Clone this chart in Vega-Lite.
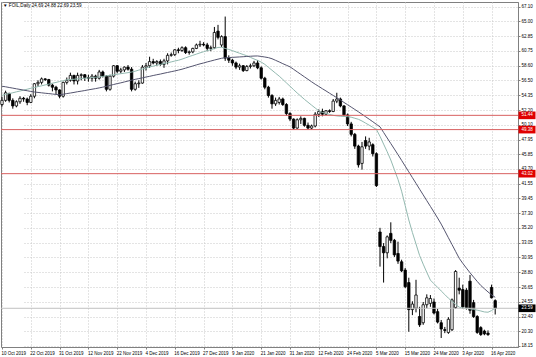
{
  "$schema": "https://vega.github.io/schema/vega-lite/v6.json",
  "width": 517,
  "height": 345,
  "autosize": "none",
  "padding": {"left": 1, "top": 2, "right": 18, "bottom": 10},
  "background": "#ffffff",
  "config": {
    "view": {"stroke": "#808080", "strokeWidth": 1},
    "font": "Liberation Sans",
    "axis": {
      "labelOverlap": false,
      "labelFontSize": 4.5,
      "labelFont": "Liberation Sans",
      "labelColor": "#000000",
      "labelPadding": 1,
      "tickSize": 2,
      "tickColor": "#808080",
      "domainColor": "#808080",
      "gridColor": "#c8c8c8",
      "gridDash": [1, 2],
      "gridWidth": 1,
      "title": null
    }
  },
  "title": {
    "text": "▼ FOIL,Daily  24.69 24.88 22.69 23.59",
    "anchor": "start",
    "frame": "group",
    "offset": -6,
    "dx": 2,
    "fontSize": 4.6,
    "fontWeight": "normal",
    "font": "Liberation Sans",
    "color": "#000000"
  },
  "datasets": {
    "bars": [
      {"d":"10 Oct 2019","o":53.0,"h":54.1,"l":52.7,"c":53.6,"m1":54.33,"m2":55.64},
      {"d":"11 Oct 2019","o":53.6,"h":55.0,"l":53.4,"c":54.7,"m1":54.46,"m2":55.56},
      {"d":"14 Oct 2019","o":54.6,"h":54.7,"l":53.3,"c":53.6,"m1":54.57,"m2":55.46},
      {"d":"15 Oct 2019","o":53.6,"h":53.9,"l":52.4,"c":52.8,"m1":54.70,"m2":55.37},
      {"d":"16 Oct 2019","o":52.8,"h":53.6,"l":52.6,"c":53.4,"m1":54.83,"m2":55.27},
      {"d":"17 Oct 2019","o":53.4,"h":54.2,"l":53.1,"c":53.9,"m1":54.95,"m2":55.18},
      {"d":"18 Oct 2019","o":53.9,"h":54.1,"l":53.4,"c":53.8,"m1":55.08,"m2":55.08},
      {"d":"21 Oct 2019","o":53.8,"h":54.0,"l":52.9,"c":53.3,"m1":55.21,"m2":54.99},
      {"d":"22 Oct 2019","o":53.3,"h":54.5,"l":53.2,"c":54.2,"m1":55.34,"m2":54.89},
      {"d":"23 Oct 2019","o":54.2,"h":56.1,"l":53.9,"c":56.0,"m1":55.46,"m2":54.81},
      {"d":"24 Oct 2019","o":56.0,"h":56.5,"l":55.6,"c":56.2,"m1":55.59,"m2":54.75},
      {"d":"25 Oct 2019","o":56.2,"h":56.9,"l":55.9,"c":56.7,"m1":55.70,"m2":54.69},
      {"d":"27 Oct 2019","o":56.7,"h":56.8,"l":56.4,"c":56.6,"m1":55.83,"m2":54.63},
      {"d":"28 Oct 2019","o":56.6,"h":56.7,"l":55.6,"c":55.8,"m1":55.94,"m2":54.58},
      {"d":"29 Oct 2019","o":55.8,"h":56.0,"l":54.9,"c":55.5,"m1":56.08,"m2":54.52},
      {"d":"30 Oct 2019","o":55.5,"h":55.7,"l":54.5,"c":55.1,"m1":56.19,"m2":54.46},
      {"d":"31 Oct 2019","o":55.1,"h":55.2,"l":53.9,"c":54.2,"m1":56.32,"m2":54.40},
      {"d":"1 Nov 2019","o":54.2,"h":56.3,"l":54.0,"c":56.2,"m1":56.44,"m2":54.49},
      {"d":"4 Nov 2019","o":56.2,"h":56.9,"l":55.9,"c":56.5,"m1":56.57,"m2":54.58},
      {"d":"5 Nov 2019","o":56.5,"h":57.6,"l":56.3,"c":57.2,"m1":56.61,"m2":54.66},
      {"d":"6 Nov 2019","o":57.2,"h":57.3,"l":55.9,"c":56.4,"m1":56.65,"m2":54.75},
      {"d":"7 Nov 2019","o":56.4,"h":57.6,"l":55.9,"c":57.2,"m1":56.71,"m2":54.85},
      {"d":"8 Nov 2019","o":57.2,"h":57.5,"l":56.5,"c":57.3,"m1":56.75,"m2":54.93},
      {"d":"11 Nov 2019","o":57.3,"h":57.4,"l":56.4,"c":56.9,"m1":56.80,"m2":55.02},
      {"d":"12 Nov 2019","o":56.9,"h":57.3,"l":56.3,"c":56.8,"m1":56.84,"m2":55.12},
      {"d":"13 Nov 2019","o":56.8,"h":57.4,"l":56.3,"c":57.1,"m1":56.90,"m2":55.21},
      {"d":"14 Nov 2019","o":57.1,"h":57.3,"l":56.3,"c":56.8,"m1":56.94,"m2":55.30},
      {"d":"15 Nov 2019","o":56.8,"h":58.0,"l":56.6,"c":57.7,"m1":56.98,"m2":55.40},
      {"d":"18 Nov 2019","o":57.7,"h":57.9,"l":56.9,"c":57.1,"m1":57.06,"m2":55.51},
      {"d":"19 Nov 2019","o":57.1,"h":57.2,"l":54.9,"c":55.2,"m1":57.14,"m2":55.63},
      {"d":"20 Nov 2019","o":55.2,"h":57.3,"l":55.0,"c":57.1,"m1":57.22,"m2":55.76},
      {"d":"21 Nov 2019","o":57.1,"h":58.7,"l":56.9,"c":58.6,"m1":57.30,"m2":55.89},
      {"d":"22 Nov 2019","o":58.6,"h":58.7,"l":57.5,"c":57.8,"m1":57.37,"m2":56.02},
      {"d":"25 Nov 2019","o":57.8,"h":58.3,"l":57.5,"c":58.0,"m1":57.45,"m2":56.13},
      {"d":"26 Nov 2019","o":58.0,"h":58.5,"l":57.7,"c":58.4,"m1":57.53,"m2":56.26},
      {"d":"27 Nov 2019","o":58.4,"h":58.7,"l":57.9,"c":58.1,"m1":57.60,"m2":56.39},
      {"d":"28 Nov 2019","o":58.1,"h":58.4,"l":54.9,"c":55.2,"m1":57.69,"m2":56.52},
      {"d":"29 Nov 2019","o":55.2,"h":56.3,"l":55.0,"c":56.0,"m1":57.81,"m2":56.64},
      {"d":"2 Dec 2019","o":56.0,"h":56.5,"l":55.4,"c":56.1,"m1":57.97,"m2":56.74},
      {"d":"3 Dec 2019","o":56.1,"h":58.7,"l":56.0,"c":58.4,"m1":58.12,"m2":56.85},
      {"d":"4 Dec 2019","o":58.4,"h":59.0,"l":57.9,"c":58.6,"m1":58.27,"m2":56.97},
      {"d":"5 Dec 2019","o":58.6,"h":59.9,"l":58.3,"c":59.2,"m1":58.43,"m2":57.07},
      {"d":"6 Dec 2019","o":59.2,"h":59.6,"l":58.8,"c":59.0,"m1":58.54,"m2":57.19},
      {"d":"9 Dec 2019","o":59.0,"h":59.4,"l":58.6,"c":59.2,"m1":58.67,"m2":57.30},
      {"d":"10 Dec 2019","o":59.2,"h":59.5,"l":58.6,"c":58.8,"m1":58.79,"m2":57.40},
      {"d":"11 Dec 2019","o":58.8,"h":59.6,"l":58.3,"c":59.3,"m1":58.92,"m2":57.52},
      {"d":"12 Dec 2019","o":59.3,"h":60.4,"l":58.8,"c":60.1,"m1":59.03,"m2":57.63},
      {"d":"13 Dec 2019","o":60.1,"h":60.5,"l":59.9,"c":60.2,"m1":59.15,"m2":57.74},
      {"d":"16 Dec 2019","o":60.2,"h":61.0,"l":60.0,"c":60.9,"m1":59.28,"m2":57.85},
      {"d":"17 Dec 2019","o":60.9,"h":61.2,"l":60.4,"c":60.8,"m1":59.39,"m2":57.97},
      {"d":"18 Dec 2019","o":60.8,"h":61.4,"l":60.6,"c":61.2,"m1":59.55,"m2":58.10},
      {"d":"19 Dec 2019","o":61.2,"h":61.4,"l":60.3,"c":60.5,"m1":59.74,"m2":58.25},
      {"d":"20 Dec 2019","o":60.5,"h":60.8,"l":60.2,"c":60.6,"m1":59.93,"m2":58.41},
      {"d":"23 Dec 2019","o":60.6,"h":61.2,"l":60.4,"c":61.1,"m1":60.10,"m2":58.56},
      {"d":"24 Dec 2019","o":61.1,"h":61.8,"l":61.0,"c":61.6,"m1":60.28,"m2":58.72},
      {"d":"26 Dec 2019","o":61.6,"h":62.2,"l":61.3,"c":61.7,"m1":60.46,"m2":58.87},
      {"d":"27 Dec 2019","o":61.7,"h":62.0,"l":61.4,"c":61.6,"m1":60.62,"m2":59.00},
      {"d":"30 Dec 2019","o":61.6,"h":61.9,"l":60.7,"c":61.1,"m1":60.78,"m2":59.15},
      {"d":"31 Dec 2019","o":61.1,"h":61.5,"l":60.7,"c":61.2,"m1":60.92,"m2":59.28},
      {"d":"2 Jan 2020","o":61.2,"h":64.2,"l":61.0,"c":63.4,"m1":61.08,"m2":59.42},
      {"d":"3 Jan 2020","o":63.6,"h":64.5,"l":62.4,"c":62.7,"m1":61.24,"m2":59.55},
      {"d":"6 Jan 2020","o":61.6,"h":63.0,"l":61.3,"c":62.8,"m1":61.26,"m2":59.68},
      {"d":"7 Jan 2020","o":62.8,"h":65.7,"l":59.3,"c":59.7,"m1":61.10,"m2":59.75},
      {"d":"8 Jan 2020","o":59.7,"h":60.1,"l":59.0,"c":59.4,"m1":60.95,"m2":59.78},
      {"d":"9 Jan 2020","o":59.4,"h":59.6,"l":58.6,"c":59.0,"m1":60.78,"m2":59.81},
      {"d":"10 Jan 2020","o":59.0,"h":59.2,"l":58.1,"c":58.4,"m1":60.59,"m2":59.84},
      {"d":"13 Jan 2020","o":58.4,"h":58.9,"l":58.0,"c":58.6,"m1":60.40,"m2":59.87},
      {"d":"14 Jan 2020","o":58.6,"h":58.7,"l":57.7,"c":57.9,"m1":60.22,"m2":59.90},
      {"d":"15 Jan 2020","o":57.9,"h":58.7,"l":57.8,"c":58.5,"m1":60.04,"m2":59.94},
      {"d":"16 Jan 2020","o":58.5,"h":58.9,"l":58.2,"c":58.6,"m1":59.81,"m2":59.97},
      {"d":"17 Jan 2020","o":58.6,"h":59.3,"l":58.4,"c":59.0,"m1":59.58,"m2":60.00},
      {"d":"20 Jan 2020","o":59.0,"h":59.4,"l":58.1,"c":58.3,"m1":59.37,"m2":60.01},
      {"d":"21 Jan 2020","o":58.3,"h":58.5,"l":56.6,"c":56.8,"m1":59.13,"m2":59.94},
      {"d":"22 Jan 2020","o":56.8,"h":57.0,"l":55.2,"c":55.5,"m1":58.80,"m2":59.86},
      {"d":"23 Jan 2020","o":55.5,"h":55.7,"l":54.0,"c":54.3,"m1":58.37,"m2":59.77},
      {"d":"24 Jan 2020","o":54.3,"h":54.5,"l":52.4,"c":53.1,"m1":57.95,"m2":59.61},
      {"d":"27 Jan 2020","o":53.1,"h":54.0,"l":52.8,"c":53.6,"m1":57.52,"m2":59.38},
      {"d":"28 Jan 2020","o":53.3,"h":54.1,"l":53.0,"c":53.8,"m1":57.10,"m2":59.15},
      {"d":"29 Jan 2020","o":53.8,"h":54.0,"l":52.8,"c":53.0,"m1":56.62,"m2":58.90},
      {"d":"30 Jan 2020","o":53.0,"h":53.2,"l":51.4,"c":51.7,"m1":56.13,"m2":58.67},
      {"d":"31 Jan 2020","o":51.7,"h":51.9,"l":50.6,"c":50.9,"m1":55.64,"m2":58.44},
      {"d":"3 Feb 2020","o":50.9,"h":51.0,"l":49.4,"c":49.6,"m1":55.15,"m2":58.08},
      {"d":"4 Feb 2020","o":49.6,"h":51.0,"l":49.5,"c":50.8,"m1":54.66,"m2":57.72},
      {"d":"5 Feb 2020","o":50.8,"h":51.3,"l":50.2,"c":51.0,"m1":54.21,"m2":57.36},
      {"d":"6 Feb 2020","o":51.0,"h":51.1,"l":49.8,"c":50.0,"m1":53.75,"m2":57.00},
      {"d":"7 Feb 2020","o":50.0,"h":50.4,"l":49.4,"c":49.6,"m1":53.33,"m2":56.64},
      {"d":"10 Feb 2020","o":49.6,"h":50.1,"l":49.4,"c":49.9,"m1":52.91,"m2":56.28},
      {"d":"11 Feb 2020","o":49.9,"h":51.9,"l":49.7,"c":51.6,"m1":52.50,"m2":55.93},
      {"d":"12 Feb 2020","o":51.6,"h":52.3,"l":51.2,"c":52.0,"m1":52.09,"m2":55.61},
      {"d":"13 Feb 2020","o":52.0,"h":52.4,"l":51.3,"c":51.6,"m1":51.86,"m2":55.28},
      {"d":"14 Feb 2020","o":51.6,"h":52.2,"l":51.5,"c":52.1,"m1":51.72,"m2":54.96},
      {"d":"17 Feb 2020","o":52.1,"h":52.3,"l":51.8,"c":52.0,"m1":51.57,"m2":54.63},
      {"d":"18 Feb 2020","o":52.0,"h":53.8,"l":51.9,"c":53.5,"m1":51.44,"m2":54.31},
      {"d":"19 Feb 2020","o":53.5,"h":54.7,"l":53.2,"c":53.8,"m1":51.36,"m2":53.98},
      {"d":"20 Feb 2020","o":53.8,"h":54.0,"l":52.6,"c":52.8,"m1":51.31,"m2":53.65},
      {"d":"21 Feb 2020","o":52.8,"h":52.9,"l":51.3,"c":51.5,"m1":51.28,"m2":53.30},
      {"d":"24 Feb 2020","o":51.5,"h":51.7,"l":49.9,"c":50.2,"m1":51.25,"m2":52.97},
      {"d":"25 Feb 2020","o":50.2,"h":50.5,"l":48.4,"c":48.7,"m1":51.17,"m2":52.63},
      {"d":"26 Feb 2020","o":48.7,"h":48.9,"l":46.6,"c":47.0,"m1":51.02,"m2":52.29},
      {"d":"27 Feb 2020","o":47.0,"h":47.2,"l":43.9,"c":44.3,"m1":50.87,"m2":51.95},
      {"d":"28 Feb 2020","o":44.5,"h":47.6,"l":43.6,"c":46.9,"m1":50.62,"m2":51.60},
      {"d":"2 Mar 2020","o":47.8,"h":48.4,"l":46.6,"c":47.0,"m1":50.32,"m2":51.24},
      {"d":"3 Mar 2020","o":47.0,"h":48.2,"l":46.4,"c":47.6,"m1":50.02,"m2":50.88},
      {"d":"4 Mar 2020","o":47.2,"h":47.4,"l":45.5,"c":45.9,"m1":49.71,"m2":50.52},
      {"d":"5 Mar 2020","o":45.9,"h":46.1,"l":41.1,"c":41.3,"m1":49.41,"m2":50.14},
      {"d":"6 Mar 2020","o":34.6,"h":35.2,"l":29.6,"c":32.5,"m1":48.41,"m2":49.78},
      {"d":"8 Mar 2020","o":32.5,"h":33.0,"l":27.3,"c":31.6,"m1":47.29,"m2":48.97},
      {"d":"9 Mar 2020","o":31.6,"h":34.1,"l":30.8,"c":33.9,"m1":46.18,"m2":48.17},
      {"d":"10 Mar 2020","o":34.4,"h":36.0,"l":33.0,"c":33.4,"m1":44.99,"m2":47.37},
      {"d":"11 Mar 2020","o":33.4,"h":33.6,"l":31.0,"c":31.3,"m1":43.59,"m2":46.57},
      {"d":"12 Mar 2020","o":31.5,"h":33.2,"l":30.0,"c":30.4,"m1":42.19,"m2":45.76},
      {"d":"13 Mar 2020","o":30.3,"h":30.6,"l":28.8,"c":29.0,"m1":40.49,"m2":44.94},
      {"d":"15 Mar 2020","o":29.1,"h":29.4,"l":26.5,"c":26.7,"m1":38.41,"m2":44.11},
      {"d":"16 Mar 2020","o":27.3,"h":28.0,"l":20.2,"c":23.4,"m1":36.33,"m2":43.28},
      {"d":"17 Mar 2020","o":23.4,"h":24.6,"l":22.6,"c":24.2,"m1":34.53,"m2":42.45},
      {"d":"18 Mar 2020","o":23.6,"h":27.7,"l":23.0,"c":25.5,"m1":32.87,"m2":41.62},
      {"d":"19 Mar 2020","o":22.4,"h":23.8,"l":20.9,"c":21.2,"m1":31.21,"m2":40.78},
      {"d":"20 Mar 2020","o":21.5,"h":24.5,"l":21.2,"c":24.1,"m1":29.96,"m2":39.96},
      {"d":"22 Mar 2020","o":24.1,"h":25.6,"l":23.6,"c":25.1,"m1":28.77,"m2":39.12},
      {"d":"23 Mar 2020","o":24.3,"h":25.5,"l":23.8,"c":25.0,"m1":27.65,"m2":38.30},
      {"d":"24 Mar 2020","o":24.5,"h":25.0,"l":22.7,"c":22.9,"m1":27.13,"m2":37.46},
      {"d":"25 Mar 2020","o":23.1,"h":23.5,"l":21.4,"c":21.6,"m1":26.61,"m2":36.62},
      {"d":"26 Mar 2020","o":21.5,"h":21.9,"l":19.3,"c":20.6,"m1":26.09,"m2":35.74},
      {"d":"27 Mar 2020","o":20.5,"h":20.9,"l":20.0,"c":20.4,"m1":25.57,"m2":34.76},
      {"d":"30 Mar 2020","o":20.1,"h":22.3,"l":19.9,"c":22.0,"m1":25.05,"m2":33.77},
      {"d":"31 Mar 2020","o":20.5,"h":25.0,"l":20.3,"c":24.8,"m1":24.59,"m2":32.79},
      {"d":"1 Apr 2020","o":23.7,"h":29.1,"l":23.5,"c":28.9,"m1":24.17,"m2":31.80},
      {"d":"2 Apr 2020","o":26.5,"h":28.0,"l":25.6,"c":26.2,"m1":23.75,"m2":30.81},
      {"d":"3 Apr 2020","o":26.3,"h":27.0,"l":23.5,"c":23.8,"m1":23.62,"m2":30.07},
      {"d":"6 Apr 2020","o":26.2,"h":26.5,"l":23.4,"c":23.7,"m1":23.58,"m2":29.39},
      {"d":"7 Apr 2020","o":27.5,"h":28.4,"l":22.8,"c":23.3,"m1":23.52,"m2":28.72},
      {"d":"8 Apr 2020","o":24.4,"h":24.8,"l":22.2,"c":22.4,"m1":23.42,"m2":28.09},
      {"d":"9 Apr 2020","o":22.4,"h":22.6,"l":19.9,"c":20.1,"m1":23.32,"m2":27.47},
      {"d":"13 Apr 2020","o":20.8,"h":21.0,"l":19.6,"c":19.8,"m1":23.20,"m2":26.88},
      {"d":"14 Apr 2020","o":20.3,"h":20.5,"l":19.7,"c":19.9,"m1":23.06,"m2":26.41},
      {"d":"15 Apr 2020","o":20.0,"h":20.4,"l":19.6,"c":19.8,"m1":23.02,"m2":25.95},
      {"d":"16 Apr 2020","o":26.6,"h":27.0,"l":25.0,"c":25.1,"m1":23.26,"m2":25.53},
      {"d":"17 Apr 2020","o":24.69,"h":24.88,"l":22.69,"c":23.59,"m1":23.62,"m2":25.17}
    ],
    "levels": [
      {"v": 51.44, "t": "51.44", "k": "r"},
      {"v": 49.38, "t": "49.38", "k": "r"},
      {"v": 43.02, "t": "43.02", "k": "r"},
      {"v": 23.59, "t": "23.59", "k": "b"}
    ]
  },
  "layer": [
    {
      "data": {"name": "bars"},
      "mark": {"type": "rule", "color": "#000000", "strokeWidth": 1},
      "encoding": {
        "x": {
          "field": "d", "type": "ordinal", "sort": null,
          "scale": {"type": "point", "range": [1, 494.2], "padding": 0},
          "axis": {
            "values": ["10 Oct 2019","22 Oct 2019","31 Oct 2019","12 Nov 2019","22 Nov 2019","4 Dec 2019","16 Dec 2019","27 Dec 2019","9 Jan 2020","21 Jan 2020","31 Jan 2020","12 Feb 2020","24 Feb 2020","5 Mar 2020","15 Mar 2020","24 Mar 2020","3 Apr 2020","16 Apr 2020"],
            "labelAngle": 0,
            "labelAlign": "left",
            "labelOffset": -1,
            "labelOverlap": false,
            "grid": true
          }
        },
        "y": {
          "field": "l", "type": "quantitative",
          "scale": {"domain": [18.0, 67.8], "zero": false, "nice": false},
          "axis": {
            "orient": "right",
            "values": [67.10, 65.00, 62.85, 60.75, 58.60, 56.50, 54.35, 52.20, 50.10, 47.95, 45.85, 43.70, 41.55, 39.45, 37.30, 35.20, 33.05, 30.95, 28.80, 26.65, 24.55, 22.40, 20.30, 18.15],
            "tickCount": 60,
            "format": ".2f",
            "labelOverlap": false,
            "labelFlush": false,
            "grid": true
          }
        },
        "y2": {"field": "h"}
      }
    },
    {
      "data": {"name": "bars"},
      "mark": {"type": "bar", "width": 2.4, "stroke": "#000000", "strokeWidth": 0.8},
      "encoding": {
        "x": {"field": "d", "type": "ordinal", "sort": null},
        "y": {"field": "o", "type": "quantitative"},
        "y2": {"field": "c"},
        "fill": {
          "condition": {"test": "datum.c < datum.o", "value": "#000000"},
          "value": "#ffffff"
        }
      }
    },
    {
      "data": {"name": "bars"},
      "mark": {"type": "line", "color": "#93b9b0", "strokeWidth": 1},
      "encoding": {
        "x": {"field": "d", "type": "ordinal", "sort": null},
        "y": {"field": "m1", "type": "quantitative"}
      }
    },
    {
      "data": {"name": "bars"},
      "mark": {"type": "line", "color": "#55556f", "strokeWidth": 1},
      "encoding": {
        "x": {"field": "d", "type": "ordinal", "sort": null},
        "y": {"field": "m2", "type": "quantitative"}
      }
    },
    {
      "data": {"name": "levels"},
      "transform": [{"filter": "datum.k == 'r'"}],
      "mark": {"type": "rule", "color": "#d86060", "strokeWidth": 1},
      "encoding": {
        "y": {"field": "v", "type": "quantitative"}
      }
    },
    {
      "data": {"name": "levels"},
      "transform": [{"filter": "datum.k == 'b'"}],
      "mark": {"type": "rule", "color": "#c0c0c0", "strokeWidth": 1},
      "encoding": {
        "y": {"field": "v", "type": "quantitative"}
      }
    },
    {
      "data": {"name": "levels"},
      "mark": {"type": "point", "shape": "M-1,-0.45L1,-0.45L1,0.45L-1,0.45Z", "size": 289, "filled": true, "opacity": 1, "xOffset": 9, "clip": false},
      "encoding": {
        "x": {"value": "width"},
        "y": {"field": "v", "type": "quantitative"},
        "color": {
          "condition": {"test": "datum.k == 'r'", "value": "#e00000"},
          "value": "#000000"
        }
      }
    },
    {
      "data": {"name": "levels"},
      "mark": {"type": "text", "align": "center", "baseline": "middle", "dx": 9, "fontSize": 4.5, "font": "Liberation Sans", "color": "#ffffff"},
      "encoding": {
        "x": {"value": "width"},
        "y": {"field": "v", "type": "quantitative"},
        "text": {"field": "t"}
      }
    }
  ]
}
